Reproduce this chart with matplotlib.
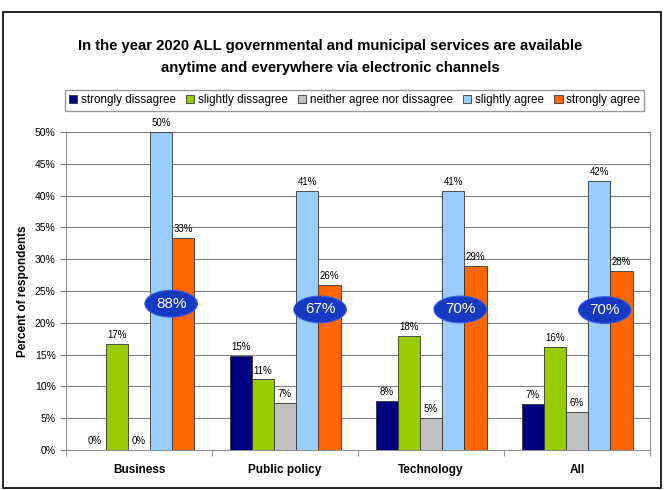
import numpy as np
import matplotlib.pyplot as plt
from matplotlib.patches import Ellipse, Rectangle

plt.rcParams['font.family'] = ['Liberation Sans', 'DejaVu Sans']

# data (percent of respondents)
categories = ['Business', 'Public policy', 'Technology', 'All']
series_names = ['strongly dissagree', 'slightly dissagree', 'neither agree nor dissagree',
                'slightly agree', 'strongly agree']
strongly_disagree = [0.0, 14.8, 7.7, 7.3]
slightly_disagree = [16.7, 11.1, 17.9, 16.2]
neither = [0.0, 7.4, 5.1, 6.0]
slightly_agree = [50.0, 40.7, 40.7, 42.3]
strongly_agree = [33.3, 25.9, 29.0, 28.2]
agree_total = ['88%', '67%', '70%', '70%']

colors = ['#000080', '#99cc00', '#c0c0c0', '#99ccff', '#ff6600']
series = [strongly_disagree, slightly_disagree, neither, slightly_agree, strongly_agree]

fig = plt.figure(figsize=(6.64, 4.90), dpi=100)
ax = fig.add_axes([0.0994, 0.0816, 0.8796, 0.649])

x = np.arange(len(categories))
w = 0.152
for i, (vals, c) in enumerate(zip(series, colors)):
    pos = x + (i - 2) * w
    ax.bar(pos, vals, w, color=c, edgecolor='#333333', linewidth=0.6,
           label=series_names[i], zorder=3)
    for p, v in zip(pos, vals):
        ax.text(p, v + 0.6, '%d%%' % round(v), ha='center', va='bottom',
                fontsize=7, zorder=5)

# blue "agree" ellipses
ell_dx = [0.22, 0.24, 0.20, 0.19]
ell_y = [23.0, 22.1, 22.1, 22.0]
for xi, dx, yy, t in zip(x, ell_dx, ell_y, agree_total):
    cx = xi + dx
    ax.add_patch(Ellipse((cx, yy), 0.36, 4.2, facecolor='#1639c4',
                         edgecolor='#3a5ce0', lw=0.8, zorder=6))
    ax.text(cx, yy, t, ha='center', va='center', color='white', fontsize=11, zorder=7)

ax.set_xlim(-0.5, 3.5)
ax.set_ylim(0, 50)
ax.set_yticks(np.arange(0, 51, 5))
ax.set_yticklabels(['%d%%' % v for v in range(0, 51, 5)], fontsize=7.5)
ax.set_xticks(x)
ax.set_xticklabels(categories, fontsize=8.5, fontweight='bold')
ax.set_xticks(np.arange(-0.5, 4, 1), minor=True)
ax.tick_params(axis='x', which='major', length=0, pad=10)
ax.tick_params(axis='x', which='minor', length=4, color='#808080')
ax.tick_params(axis='y', length=4, color='#808080')
ax.yaxis.grid(True, color='#808080', lw=0.8, zorder=0)
for s in ax.spines.values():
    s.set_color('#909090')
ax.spines['top'].set_visible(False)
ax.set_ylabel('Percent of respondents', fontsize=8.5, fontweight='bold')

fig.legend(loc='center', bbox_to_anchor=(0.534, 0.795), ncol=5, fontsize=8.4,
           frameon=True, fancybox=False, edgecolor='#808080', handlelength=0.7,
           handleheight=0.7, handletextpad=0.3, columnspacing=0.9, borderpad=0.35)

fig.text(0.497, 0.898, 'In the year 2020 ALL governmental and municipal services are available',
         ha='center', fontsize=10.7, fontweight='bold')
fig.text(0.497, 0.853, 'anytime and everywhere via electronic channels',
         ha='center', fontsize=10.7, fontweight='bold')

fig.patches.append(Rectangle((0.004, 0.005), 0.991, 0.97, transform=fig.transFigure,
                             fill=False, edgecolor='black', lw=1.2))

fig.savefig('out.png', dpi=100)
